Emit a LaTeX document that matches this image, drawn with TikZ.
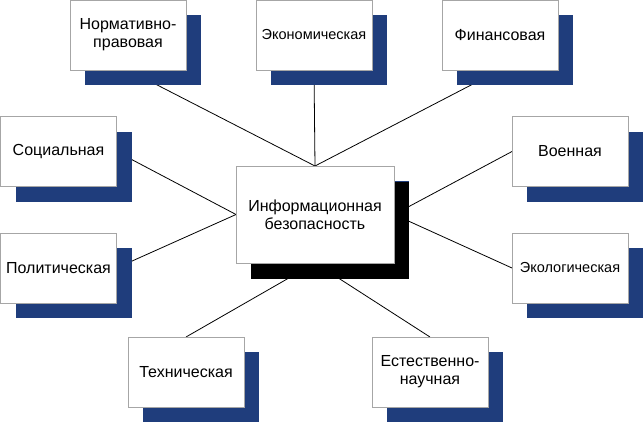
\documentclass[tikz,border=0pt]{standalone}
\usepackage{fontspec}
\setmainfont{Liberation Sans}
\definecolor{ShadowBlue}{HTML}{1F3D7C}
\definecolor{FrameGray}{HTML}{A6A6A6}
\usetikzlibrary{shadows, backgrounds}
\tikzset{
  box/.style={draw=FrameGray, line width=0.6pt, fill=white, align=center, minimum width=116pt, minimum height=70pt, inner sep=2pt, outer sep=0pt, font=\fontsize{16}{18}\selectfont, general shadow={fill=ShadowBlue, shadow xshift=15pt, shadow yshift=-15pt}},
  smallbox/.style={box, font=\fontsize{14.5}{17}\selectfont},
  link/.style={draw=black, line width=0.8pt}
}

\begin{document}
\begin{tikzpicture}[x=1pt, y=-1pt,
  hub/.style={box, minimum width=158pt, minimum height=97pt, general shadow={fill=black, shadow xshift=15pt, shadow yshift=-16pt}}
]
\useasboundingbox (0,0) rectangle (643,423);
\node[box] (norm) at (128,35) {Нормативно-\\правовая};
\node[smallbox] (econ) at (314,35) {Экономическая};
\node[box] (fin) at (500,35) {Финансовая};
\node[box] (soc) at (58.5,151.5) {Социальная};
\node[box] (pol) at (58.5,268) {Политическая};
\node[box] (mil) at (570,151.5) {Военная};
\node[smallbox] (eco) at (570,268) {Экологическая};
\node[box] (tech) at (186,372) {Техническая};
\node[box] (nat) at (430,372) {Естественно-\\научная};
\node[hub] (infosec) at (315,214.5) {Информационная\\безопасность};

\begin{scope}[on background layer]
\draw[link] (norm.south) -- (infosec.north);
\draw[link] (econ.south) -- (infosec.north);
\draw[link] (fin.south) -- (infosec.north);
\draw[link] (soc.east) -- (infosec.west);
\draw[link] (pol.east) -- (infosec.west);
\draw[link] (mil.west) -- (infosec.east);
\draw[link] (eco.west) -- (infosec.east);
\draw[link] (tech.north) -- (infosec.south);
\draw[link] (nat.north) -- (infosec.south);
\end{scope}
\end{tikzpicture}
\end{document}
